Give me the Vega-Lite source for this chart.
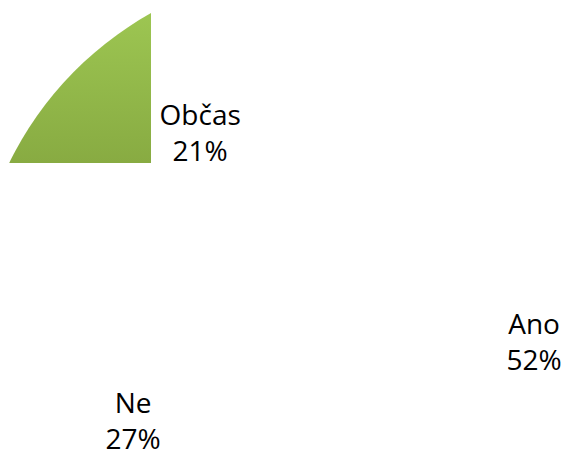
{
  "$schema": "https://vega.github.io/schema/vega-lite/v6.json",
  "width": 151,
  "height": 163,
  "autosize": "none",
  "padding": {"left": 0, "top": 0, "right": 416, "bottom": 292},
  "background": "white",
  "config": {"view": {"stroke": null}},
  "data": {
    "values": [
      {"kategorie": "Ano", "podil": 52},
      {"kategorie": "Ne", "podil": 27},
      {"kategorie": "Občas", "podil": 21}
    ]
  },
  "layer": [
    {
      "mark": {"type": "arc", "clip": true, "outerRadius": 346, "strokeWidth": 0},
      "encoding": {
        "theta": {"field": "podil", "type": "quantitative", "stack": true, "scale": {"range": [0.0716, 6.3548]}},
        "order": {"field": "kategorie", "type": "nominal", "sort": "ascending"},
        "detail": {"field": "kategorie", "type": "nominal"},
        "x": {"value": 320},
        "y": {"value": 315},
        "fill": {
          "condition": {
            "test": "datum.kategorie === 'Občas'",
            "value": {
              "gradient": "linear",
              "x1": 0, "y1": 0, "x2": 0, "y2": 1,
              "stops": [
                {"offset": 0.12, "color": "#9DC652"},
                {"offset": 0.56, "color": "#88AB42"}
              ]
            }
          },
          "value": "white"
        }
      }
    },
    {
      "transform": [
        {"calculate": "datum.kategorie + '\\n' + datum.podil + '%'", "as": "label"}
      ],
      "mark": {
        "type": "text",
        "radius": 216,
        "font": "Open Sans",
        "fontSize": 28,
        "lineBreak": "\n",
        "lineHeight": 36,
        "dy": -18,
        "align": "center",
        "baseline": "middle",
        "color": "#000000"
      },
      "encoding": {
        "theta": {"field": "podil", "type": "quantitative", "stack": true},
        "order": {"field": "kategorie", "type": "nominal", "sort": "ascending"},
        "detail": {"field": "kategorie", "type": "nominal"},
        "x": {"value": 320},
        "y": {"value": 315},
        "text": {"field": "label"}
      }
    }
  ]
}
